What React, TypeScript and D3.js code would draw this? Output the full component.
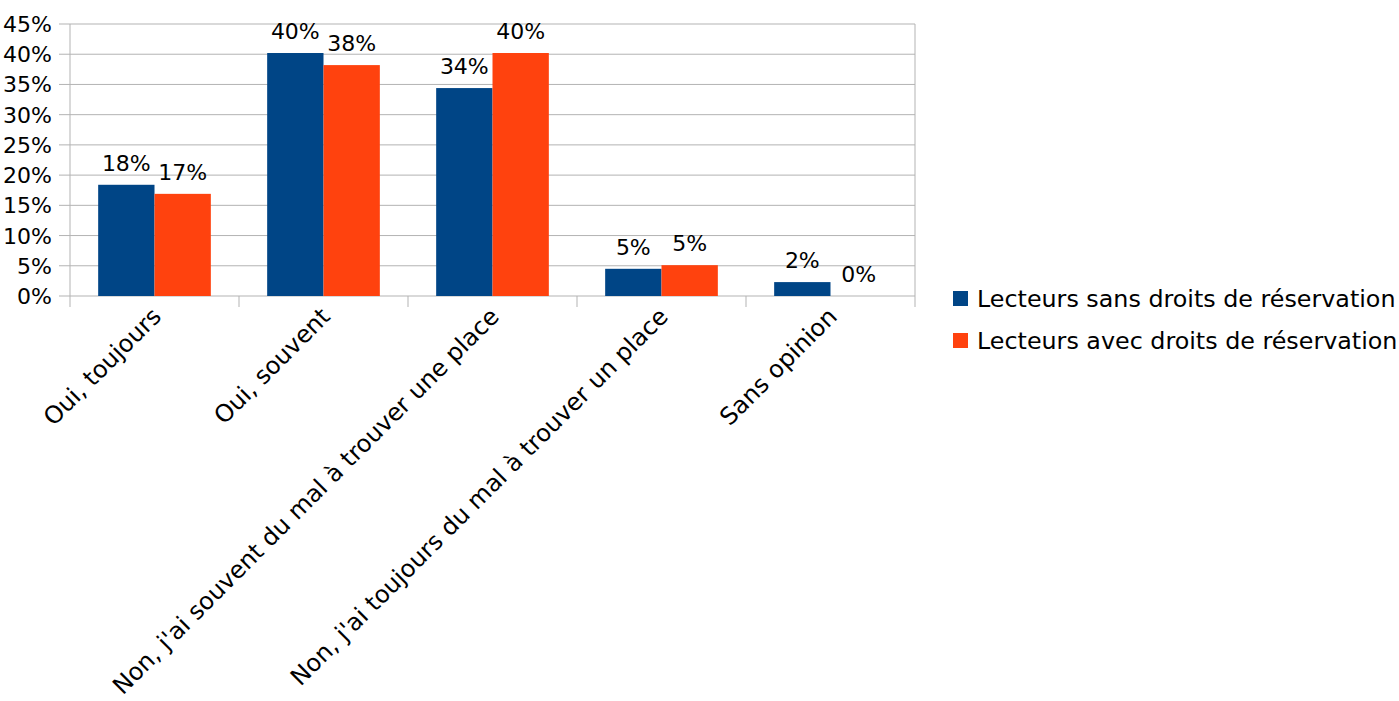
import React from "react";
import * as d3 from "d3";

const categories = [
  "Oui, toujours",
  "Oui, souvent",
  "Non, j'ai souvent du mal à trouver une place",
  "Non, j'ai toujours du mal à trouver un place",
  "Sans opinion",
];
const seriesNames = [
  "Lecteurs sans droits de réservation",
  "Lecteurs avec droits de réservation",
];
const sansDroits = [18.4, 40.2, 34.4, 4.5, 2.3];
const avecDroits = [16.9, 38.2, 40.2, 5.1, 0];
const labelsSans = ["18%", "40%", "34%", "5%", "2%"];
const labelsAvec = ["17%", "38%", "40%", "5%", "0%"];
const yTicks = [0, 5, 10, 15, 20, 25, 30, 35, 40, 45];
const colors = ["#004586", "#ff420e"];

const W = 1399;
const H = 701;
const FONT = "'DejaVu Sans', sans-serif";

export default function App() {
  const left = 70, right = 915, top = 24, bottom = 296;
  const x = d3.scaleBand().domain(categories).range([left, right]).paddingInner(0.3333).paddingOuter(0.16667);
  const xCat = d3.scaleBand().domain(categories).range([left, right]);
  const y = d3.scaleLinear().domain([0, 45]).range([bottom, top]);
  const series = [sansDroits, avecDroits];
  const labels = [labelsSans, labelsAvec];
  const bw = x.bandwidth() / 2;

  return (
    <svg width={W} height={H} style={{ position: "absolute", left: 0, top: 0, background: "#fff" }} fontFamily={FONT}>
      {yTicks.map((t) => (
        <g key={t}>
          <line x1={left - 11} x2={right} y1={y(t)} y2={y(t)} stroke="#b3b3b3" strokeWidth={1} />
          <text x={left - 18} y={y(t) + 8} textAnchor="end" fontSize={22} fill="#000">{t}%</text>
        </g>
      ))}
      <line x1={left} x2={left} y1={top} y2={bottom + 11} stroke="#b3b3b3" />
      <line x1={right} x2={right} y1={top} y2={bottom} stroke="#b3b3b3" />
      {categories.map((c, i) => (
        <line key={"t" + i} x1={xCat(c)! + xCat.bandwidth()} x2={xCat(c)! + xCat.bandwidth()} y1={bottom} y2={bottom + 11} stroke="#b3b3b3" />
      ))}
      {categories.map((c, i) =>
        series.map((s, k) => (
          <rect key={c + k} x={x(c)! + k * bw} y={y(s[i])} width={bw} height={bottom - y(s[i])} fill={colors[k]} />
        ))
      )}
      {categories.map((c, i) =>
        series.map((s, k) => (
          <text key={"l" + c + k} x={x(c)! + k * bw + bw / 2} y={y(s[i]) - 14} textAnchor="middle" fontSize={22} fill="#000">
            {labels[k][i]}
          </text>
        ))
      )}
      {categories.map((c) => {
        const cx = xCat(c)! + xCat.bandwidth() / 2 + 8;
        const cy = bottom + 22;
        return (
          <text key={"c" + c} transform={`translate(${cx},${cy}) rotate(-45)`} textAnchor="end" fontSize={24} fill="#000">
            {c}
          </text>
        );
      })}
      {seriesNames.map((n, k) => (
        <g key={n} transform={`translate(953, ${291 + k * 42})`}>
          <rect x={0} y={0} width={15} height={15} fill={colors[k]} />
          <text x={24} y={16} fontSize={23.8} fill="#000">{n}</text>
        </g>
      ))}
    </svg>
  );
}
